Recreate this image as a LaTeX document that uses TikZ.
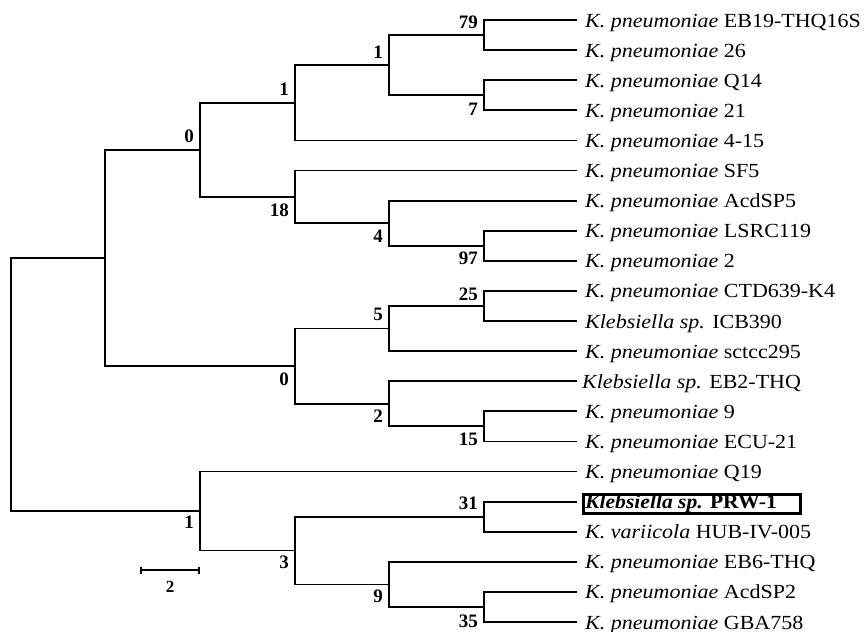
\documentclass[tikz,border=0pt]{standalone}
\usepackage{fontspec}
\setmainfont{Liberation Serif}
\usepackage{graphicx}
\usetikzlibrary{calc}
\newcommand{\lfx}[1]{\scalebox{1.1}[1]{#1}}
\newcommand{\spn}[2]{\lfx{\textit{#1} #2}}
\tikzset{
  br/.style={line width=1.8pt},
  leaf/.style={anchor=base west, inner sep=0pt, font=\fontsize{20}{22}\selectfont},
  bs/.style={anchor=east, inner sep=0pt, font=\fontsize{19}{20}\selectfont\bfseries},
}
\begin{document}
\begin{tikzpicture}[x=1pt,y=-1pt]
\useasboundingbox (0,0) rectangle (868,632);
% leaf ends
\foreach \i in {1,...,21} {
  \coordinate (l\i) at (577,{20+30.1*(\i-1)});
}
% internal nodes
\coordinate (E) at (484,35.05);
\coordinate (F) at (484,95.25);
\coordinate (D) at (389,65.15);
\coordinate (C) at (295,102.8);
\coordinate (I) at (484,245.75);
\coordinate (H) at (389,223.2);
\coordinate (G) at (295,196.85);
\coordinate (B) at (200,149.8);
\coordinate (L) at (484,305.95);
\coordinate (K) at (389,328.5);
\coordinate (N) at (484,426.35);
\coordinate (M) at (389,403.8);
\coordinate (J) at (295,366.15);
\coordinate (A) at (105,258);
\coordinate (Q) at (484,516.65);
\coordinate (S) at (484,606.95);
\coordinate (R) at (389,584.4);
\coordinate (P) at (295,550.5);
\coordinate (O) at (200,511);
\coordinate (root) at (11,384.5);
% branches
\draw[br] (l1) -| (E) |- (l2);
\draw[br] (l3) -| (F) |- (l4);
\draw[br] (E) -| (D) |- (F);
\draw[br] (D) -| (C) |- (l5);
\draw[br] (l8) -| (I) |- (l9);
\draw[br] (l7) -| (H) |- (I);
\draw[br] (l6) -| (G) |- (H);
\draw[br] (C) -| (B) |- (G);
\draw[br] (l10) -| (L) |- (l11);
\draw[br] (L) -| (K) |- (l12);
\draw[br] (l14) -| (N) |- (l15);
\draw[br] (l13) -| (M) |- (N);
\draw[br] (K) -| (J) |- (M);
\draw[br] (B) -| (A) |- (J);
\draw[br] (l17) -| (Q) |- (l18);
\draw[br] (l20) -| (S) |- (l21);
\draw[br] (l19) -| (R) |- (S);
\draw[br] (Q) -| (P) |- (R);
\draw[br] (l16) -| (O) |- (P);
\draw[br] (A) -| (root) |- (O);
% support values
\node[bs] (vE) at (478,22) {79};
\node[bs] (vF) at (478,109) {7};
\node[bs] (vD) at (383,52) {1};
\node[bs] (vC) at (289,89.5) {1};
\node[bs] (vB) at (194,136) {0};
\node[bs] (vG) at (289,210) {18};
\node[bs] (vH) at (383,236) {4};
\node[bs] (vI) at (478,258.5) {97};
\node[bs] (vL) at (478,294) {25};
\node[bs] (vK) at (383,314) {5};
\node[bs] (vJ) at (289,379.5) {0};
\node[bs] (vM) at (383,416.5) {2};
\node[bs] (vN) at (478,439) {15};
\node[bs] (vO) at (194,522.5) {1};
\node[bs] (vP) at (289,562.5) {3};
\node[bs] (vQ) at (478,503.5) {31};
\node[bs] (vR) at (383,596) {9};
\node[bs] (vS) at (478,621) {35};
% leaf labels
\node[leaf] (t1) at (585,{20+30.1*0+7}) {\spn{K. pneumoniae}{EB19-THQ16S}};
\node[leaf] (t2) at (585,{20+30.1*1+7}) {\spn{K. pneumoniae}{26}};
\node[leaf] (t3) at (585,{20+30.1*2+7}) {\spn{K. pneumoniae}{Q14}};
\node[leaf] (t4) at (585,{20+30.1*3+7}) {\spn{K. pneumoniae}{21}};
\node[leaf] (t5) at (585,{20+30.1*4+7}) {\spn{K. pneumoniae}{4-15}};
\node[leaf] (t6) at (585,{20+30.1*5+7}) {\spn{K. pneumoniae}{SF5}};
\node[leaf] (t7) at (585,{20+30.1*6+7}) {\spn{K. pneumoniae}{AcdSP5}};
\node[leaf] (t8) at (585,{20+30.1*7+7}) {\spn{K. pneumoniae}{LSRC119}};
\node[leaf] (t9) at (585,{20+30.1*8+7}) {\spn{K. pneumoniae}{2}};
\node[leaf] (t10) at (585,{20+30.1*9+7}) {\spn{K. pneumoniae}{CTD639-K4}};
\node[leaf] (t11) at (585,{20+30.1*10+7}) {\spn{Klebsiella sp.}{ICB390}};
\node[leaf] (t12) at (585,{20+30.1*11+7}) {\spn{K. pneumoniae}{sctcc295}};
\node[leaf] (t13) at (582,{20+30.1*12+7}) {\spn{Klebsiella sp.}{EB2-THQ}};
\node[leaf] (t14) at (585,{20+30.1*13+7}) {\spn{K. pneumoniae}{9}};
\node[leaf] (t15) at (585,{20+30.1*14+7}) {\spn{K. pneumoniae}{ECU-21}};
\node[leaf] (t16) at (585,{20+30.1*15+7}) {\spn{K. pneumoniae}{Q19}};
\draw[line width=3pt] (583.5,494) rectangle (800,513.5);
\node[leaf] (t17) at (585,{20+30.1*16+7}) {\scalebox{1.08}[1]{\bfseries\textit{Klebsiella sp.} PRW-1}};
\node[leaf] (t18) at (585,{20+30.1*17+7}) {\spn{K. variicola}{HUB-IV-005}};
\node[leaf] (t19) at (585,{20+30.1*18+7}) {\spn{K. pneumoniae}{EB6-THQ}};
\node[leaf] (t20) at (585,{20+30.1*19+7}) {\spn{K. pneumoniae}{AcdSP2}};
\node[leaf] (t21) at (585,{20+30.1*20+7}) {\spn{K. pneumoniae}{GBA758}};
% scale bar
\coordinate (sb1) at (141,570);
\coordinate (sb2) at (199,570);
\draw[br] (sb1) -- (sb2);
\draw[br] ($(sb1)+(0,-3.5)$) -- ($(sb1)+(0,3.5)$);
\draw[br] ($(sb2)+(0,-3.5)$) -- ($(sb2)+(0,3.5)$);
\node[inner sep=0pt, font=\fontsize{17}{18}\selectfont\bfseries] (sbl) at (170,587) {2};
\end{tikzpicture}
\end{document}
